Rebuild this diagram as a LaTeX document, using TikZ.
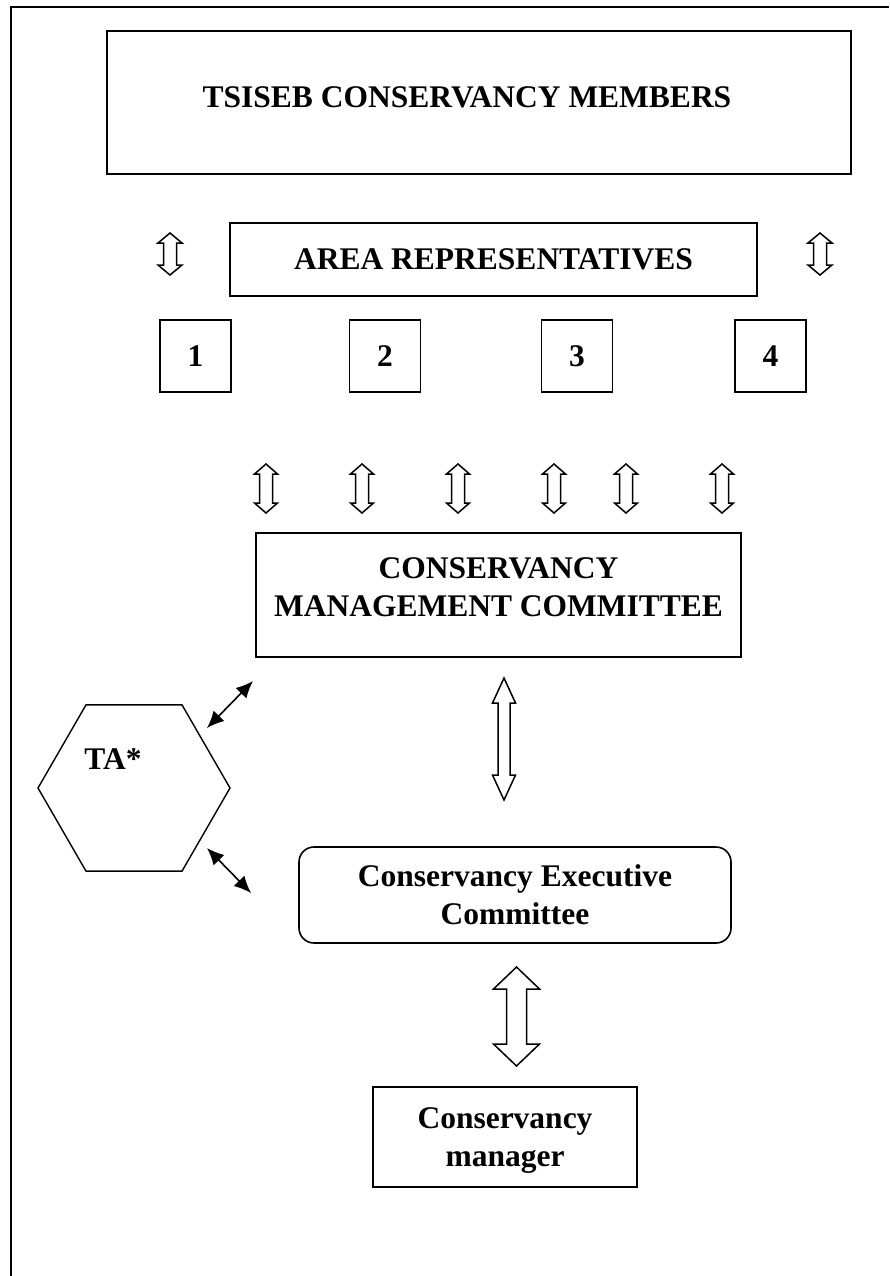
\documentclass[tikz,border=0pt]{standalone}
\usepackage{fontspec}
\setmainfont{Liberation Serif}
\usetikzlibrary{arrows.meta,shapes.geometric}
\newcommand{\orgfont}{\fontsize{31.5}{38}\selectfont\bfseries}
% hollow double arrow: x, y top, y bottom, shaft half width, head half width, head length
\newcommand{\hollowarrow}[6]{%
  \draw[blockarrow] (#1,#2) -- ({#1+#5},{#2+#6}) -- ({#1+#4},{#2+#6}) -- ({#1+#4},{#3-#6})
    -- ({#1+#5},{#3-#6}) -- (#1,#3) -- ({#1-#5},{#3-#6}) -- ({#1-#4},{#3-#6})
    -- ({#1-#4},{#2+#6}) -- ({#1-#5},{#2+#6}) -- cycle;}

\begin{document}
\begin{tikzpicture}[x=1pt, y=-1pt,
    box/.style={draw, line width=1.6pt, inner sep=0pt, align=center, font=\orgfont},
    numbox/.style={box, minimum width=71pt, minimum height=72pt},
    label/.style={align=center, font=\orgfont, inner sep=0pt},
    blockarrow/.style={draw, line width=1.5pt, line join=miter},
    link/.style={{Latex[length=17pt,width=15pt]}-{Latex[length=17pt,width=15pt]}, line width=1.6pt}
  ]
  \useasboundingbox (0,0) rectangle (889,1276);
  \draw[line width=2pt] (11,1276) -- (11,7) -- (889,7);

  \node[box, minimum width=744pt, minimum height=143pt] (members) at (479,102.5) {};
  \node[label] (memberstext) at (467,97) {TSISEB CONSERVANCY MEMBERS};
  \node[box, minimum width=527pt, minimum height=73pt] (area) at (493.5,259.5) {AREA REPRESENTATIVES};
  \hollowarrow{170}{233}{275}{6.5}{12}{10}
  \hollowarrow{820}{233}{275}{6.5}{12}{10}
  \foreach \n/\x in {1/195.5, 2/385, 3/577, 4/770.5}
    \node[numbox] (a\n) at (\x,356) {\n};

  \foreach \x in {266,362,458,554,626,722}
    {\hollowarrow{\x}{464}{513}{6.5}{11.5}{10}}

  \node[box, minimum width=485pt, minimum height=124pt] (cmc) at (498.5,595) {};
  \node[label] (cmctext) at (498.5,587) {CONSERVANCY\\MANAGEMENT COMMITTEE};
  \hollowarrow{504}{678}{800}{6}{11.5}{25}

  \node[draw, regular polygon, regular polygon sides=6, minimum size=192pt, inner sep=0pt, line width=1.4pt] (ta) at (134,788) {};
  \node[label] (talabel) at (113,759) {TA*};
  \coordinate (cmcw) at (253,681);
  \coordinate (tane) at (207,728);
  \coordinate (tase) at (207,848);
  \coordinate (cecw) at (251,893);
  \draw[link] (tane) -- (cmcw);
  \draw[link] (tase) -- (cecw);

  \node[box, rounded corners=15pt, minimum width=432pt, minimum height=96pt] (cec) at (515,895) {Conservancy Executive\\Committee};
  \hollowarrow{516.5}{967}{1066}{10}{23}{22}
  \node[box, minimum width=264pt, minimum height=100pt] (manager) at (505,1137) {};
  \node[label] (managertext) at (505,1141) {Conservancy\\manager};
\end{tikzpicture}
\end{document}
